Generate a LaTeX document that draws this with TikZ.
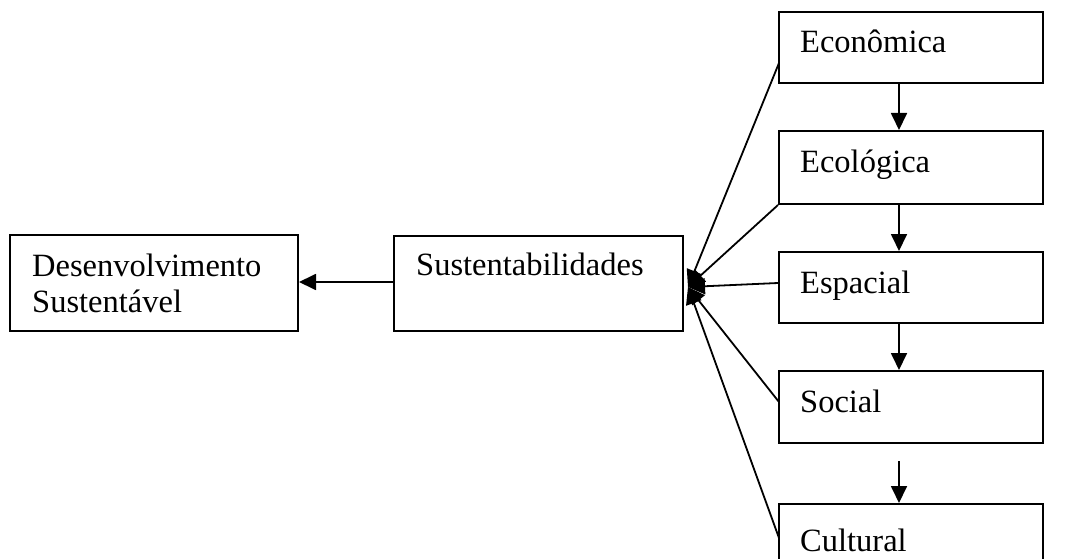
\documentclass[tikz,border=0pt]{standalone}
\usepackage{fontspec}
\setmainfont{Liberation Serif}
\usetikzlibrary{arrows.meta}
\tikzset{
  box/.style={draw=black, line width=2pt, inner sep=0pt, fill=white},
  txt/.style={inner sep=0pt, anchor=base west, font=\fontsize{32.5}{36}\selectfont},
  conn/.style={line width=1.8pt, -{Triangle[length=17pt,width=16pt]}},
}
\begin{document}
\begin{tikzpicture}[x=1pt,y=-1pt]
\clip (0,0) rectangle (1085,559);
\fill[white] (0,0) rectangle (1085,559);
% left boxes
\node[box, minimum width=288pt, minimum height=96pt] (des) at (154,283) {};
\node[txt] (dest1) at (32,276) {Desenvolvimento};
\node[txt] (dest2) at (32,312) {Sustentável};
\node[box, minimum width=289pt, minimum height=95pt] (sus) at (538.5,283.5) {};
\node[txt] (sust) at (416,275) {Sustentabilidades};
% right column
\node[box, minimum width=264pt, minimum height=71pt] (eco) at (911,47.5) {};
\node[txt] (ecot) at (800,53) {Econômica};
\node[box, minimum width=264pt, minimum height=73pt] (ecl) at (911,167.5) {};
\node[txt] (eclt) at (800,172) {Ecológica};
\node[box, minimum width=264pt, minimum height=71pt] (esp) at (911,287.5) {};
\node[txt] (espt) at (800,293) {Espacial};
\node[box, minimum width=264pt, minimum height=72pt] (soc) at (911,407) {};
\node[txt] (soct) at (800,412) {Social};
\node[box, minimum width=264pt, minimum height=72pt] (cul) at (911,540) {};
\node[txt] (cult) at (800,551) {Cultural};
% convergence point
\coordinate (hub) at (688,287);
\coordinate (ecoL) at (779,63);
\coordinate (socL) at (779,402);
\coordinate (culL) at (779,538);
\coordinate (socA) at (899,461);
% connectors
\draw[conn] (sus.west |- 0,282) -- (des.east |- 0,282);
\draw[conn] (ecoL) -- (hub);
\draw[conn] (ecl.south west) -- (hub);
\draw[conn] (esp.west |- 0,283) -- (hub);
\draw[conn] (socL) -- (hub);
\draw[conn] (culL) -- (hub);
\draw[conn] (eco.south -| 899,0) -- (ecl.north -| 899,0);
\draw[conn] (ecl.south -| 899,0) -- (esp.north -| 899,0);
\draw[conn] (esp.south -| 899,0) -- (soc.north -| 899,0);
\draw[conn] (socA) -- (cul.north -| 899,0);
\end{tikzpicture}
\end{document}
